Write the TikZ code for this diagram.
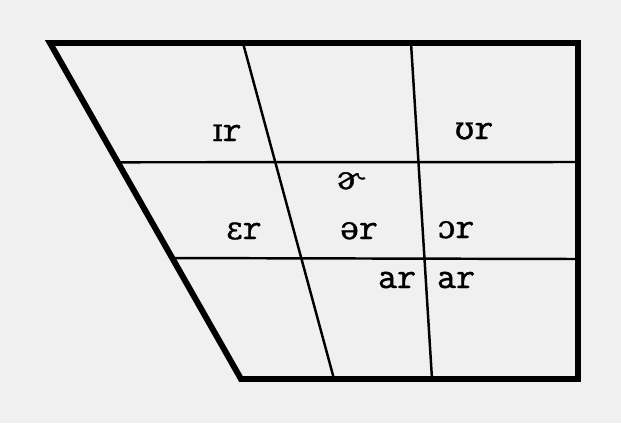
\documentclass[tikz,border=0pt]{standalone}
\usepackage{fontspec}
\newfontfamily\typewr[FakeBold=1.2]{Latin Modern Mono}
\newfontfamily\ipafont[FakeBold=1]{DejaVu Serif}
\newcommand\ipa[1]{{\ipafont\fontsize{18}{20}\selectfont #1}}
\usetikzlibrary{positioning, calc}

\begin{document}
\begin{tikzpicture}[
  x=0.02cm, y=-0.02cm,
  frame/.style={line width=3.4pt, line join=miter},
  grid/.style={line width=1.4pt},
  vowel/.style={font=\typewr\fontsize{21}{24}\selectfont, anchor=base, inner sep=0pt},
]

% --- paper
\fill[black!6] (0,0) rectangle (621,423);
\useasboundingbox (0,0) rectangle (621,423);

% --- corners of the chart: front (left, slanted) -> back (right)
\coordinate (tl) at (50,43);
\coordinate (tr) at (578,43);
\coordinate (br) at (578,379);
\coordinate (bl) at (241,379);

% --- row and column lines
\coordinate (h1l) at ($(tl)!0.355!(bl)$);
\coordinate (h1r) at (578,162);
\coordinate (h2l) at ($(tl)!0.64!(bl)$);
\coordinate (h2r) at (578,259);
\coordinate (c1t) at (243,43);
\coordinate (c1b) at (334,379);
\coordinate (c2t) at (411,43);
\coordinate (c2b) at (432,379);

\draw[grid] (h1l) -- (h1r);
\draw[grid] (h2l) -- (h2r);
\draw[grid] (c1t) -- (c1b);
\draw[grid] (c2t) -- (c2b);

\draw[frame] (tl) -- (tr) -- (br) -- (bl) -- cycle;

% --- vowels
\node[vowel] (ir)  at (227,141) {\ipa{ɪ}r};
\node[vowel] (ur)  at (474,139) {\ipa{ʊ}r};
\node[vowel] (schr) at (350,189) {\ipa{ɚ}};
\node[vowel] (er)  at (244,239) {\ipa{ɛ}r};
\node[vowel] (shr) at (359,239) {\ipa{ə}r};
\node[vowel] (or)  at (456,238) {\ipa{ɔ}r};
\node[vowel] (arl) at (397,288) {ar};
\node[vowel] (arr) at (456,288) {ar};

\end{tikzpicture}
\end{document}
